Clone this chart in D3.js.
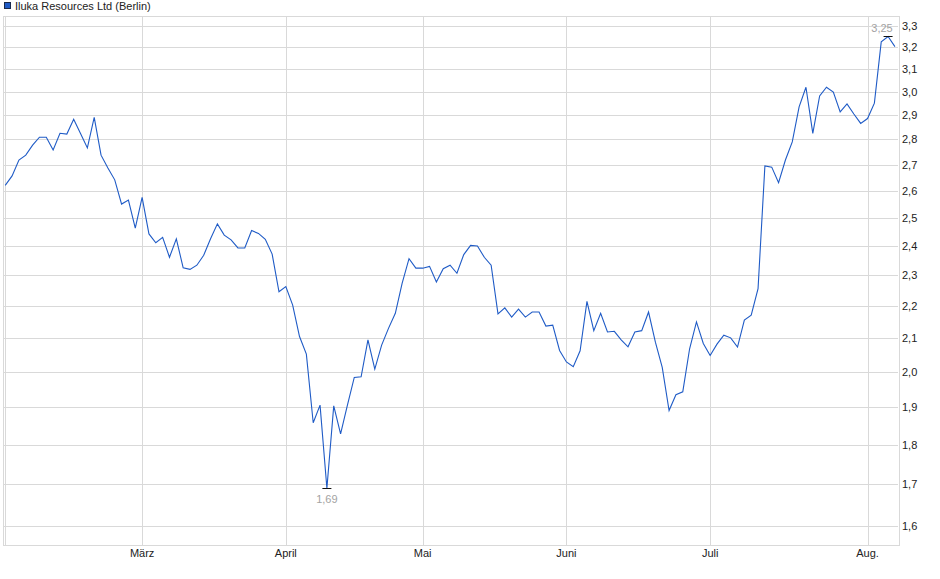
<!DOCTYPE html>
<html>
<head>
<meta charset="utf-8">
<script src="https://cdn.jsdelivr.net/npm/d3@7"></script>
<style>
  body { margin: 0; background: white; }
  text { font-family: "Liberation Sans", Arial, sans-serif; }
</style>
</head>
<body>
<div id="chart-container"></div>
<script>
// data: daily closing prices (trading days, feb 3 .. aug 7)

const title = "Iluka Resources Ltd (Berlin)";

const prices = [
  2.620, 2.656, 2.718, 2.737, 2.777, 2.809, 2.809, 2.758, 2.825, 2.822,
  2.883, 2.824, 2.766, 2.891, 2.737, 2.687, 2.641, 2.550, 2.565, 2.463,
  2.575, 2.442, 2.411, 2.430, 2.361, 2.425, 2.325, 2.320, 2.334, 2.368,
  2.425, 2.478, 2.438, 2.421, 2.393, 2.393, 2.454, 2.444, 2.423, 2.372,
  2.246, 2.263, 2.203, 2.105, 2.052, 1.858, 1.906, 1.690, 1.904, 1.828,
  1.906, 1.984, 1.986, 2.095, 2.008, 2.079, 2.130, 2.177, 2.274, 2.356,
  2.324, 2.324, 2.330, 2.278, 2.322, 2.334, 2.307, 2.370, 2.402, 2.400,
  2.361, 2.334, 2.175, 2.194, 2.165, 2.190, 2.165, 2.181, 2.181, 2.137,
  2.140, 2.063, 2.029, 2.015, 2.062, 2.215, 2.123, 2.177, 2.119, 2.121,
  2.095, 2.074, 2.119, 2.123, 2.181, 2.088, 2.013, 1.891, 1.935, 1.943,
  2.068, 2.150, 2.084, 2.048, 2.082, 2.109, 2.101, 2.073, 2.156, 2.171,
  2.256, 2.695, 2.690, 2.630, 2.718, 2.790, 2.935, 3.020, 2.825, 2.982,
  3.020, 2.999, 2.914, 2.948, 2.905, 2.866, 2.886, 2.951, 3.225, 3.250,
  3.203
];

// first trading day of each month (index into prices)
const monthStarts = [0, 20, 41, 61, 82, 103, 126];
const monthLabels = ["", "März", "April", "Mai", "Juni", "Juli", "Aug."];

const yTicks = [1.6, 1.7, 1.8, 1.9, 2.0, 2.1, 2.2, 2.3, 2.4, 2.5,
                2.6, 2.7, 2.8, 2.9, 3.0, 3.1, 3.2, 3.3];

// svg

width = 940;
height = 579;

const plot = {left: 2.5, right: 898, top: 16, bottom: 545};
const gridColor = "#d9d9d9";
const lineColor = "#1f5bc6";

svg = d3.select("#chart-container")
    .append("svg")
    .attr("width", width)
    .attr("height", height)
    .style("background", "white");

const de = d3.formatLocale({decimal: ",", thousands: ".", grouping: [3], currency: ["", " €"]});
const fmt1 = de.format(".1f");
const fmt2 = de.format(".2f");

// scales

const x = d3.scaleLinear()
    .domain([-0.4, 130.45])
    .range([plot.left, plot.right]);

const y = d3.scaleLog()
    .domain([1.5566, 3.348])
    .range([plot.bottom, plot.top]);

// grid

const grid = svg.append("g").attr("id", "grid")
    .attr("stroke", gridColor)
    .attr("stroke-width", 1)
    .attr("shape-rendering", "crispEdges");

grid.selectAll("line.h")
    .data(yTicks)
    .join("line")
    .attr("class", "h")
    .attr("x1", plot.left)
    .attr("x2", plot.right)
    .attr("y1", d => Math.round(y(d)) + 0.5)
    .attr("y2", d => Math.round(y(d)) + 0.5);

grid.selectAll("line.v")
    .data(monthStarts)
    .join("line")
    .attr("class", "v")
    .attr("x1", d => Math.round(x(d)) + 0.5)
    .attr("x2", d => Math.round(x(d)) + 0.5)
    .attr("y1", plot.top)
    .attr("y2", plot.bottom + 1);

grid.append("rect")
    .attr("x", Math.round(plot.left) + 0.5)
    .attr("y", plot.top + 0.5)
    .attr("width", Math.round(plot.right - plot.left))
    .attr("height", plot.bottom - plot.top)
    .attr("fill", "none");

// axes labels

svg.append("g").attr("id", "y-labels")
    .selectAll("text")
    .data(yTicks)
    .join("text")
    .attr("x", plot.right + 4)
    .attr("y", d => y(d) + 4)
    .attr("font-size", 11)
    .attr("fill", "#222")
    .text(d => fmt1(d));

svg.append("g").attr("id", "x-labels")
    .selectAll("text")
    .data(monthStarts)
    .join("text")
    .attr("x", d => x(d))
    .attr("y", 557)
    .attr("text-anchor", "middle")
    .attr("font-size", 11)
    .attr("fill", "#222")
    .text((d, i) => monthLabels[i]);

// price line

const line = d3.line()
    .x((d, i) => x(i))
    .y(d => y(d));

svg.append("path")
    .datum(prices)
    .attr("d", line)
    .attr("fill", "none")
    .attr("stroke", lineColor)
    .attr("stroke-width", 1.1)
    .attr("stroke-linejoin", "miter");

// min / max markers

const maxIdx = d3.maxIndex(prices);
const minIdx = d3.minIndex(prices);

function marker(idx, above) {
    const cx = x(idx);
    const cy = Math.round(y(prices[idx])) + (above ? -0.5 : 0.5);
    svg.append("line")
        .attr("x1", cx - 4.5).attr("x2", cx + 4.5)
        .attr("y1", cy).attr("y2", cy)
        .attr("stroke", "#111")
        .attr("stroke-width", 1);
    const t = svg.append("text")
        .attr("font-size", 11)
        .attr("fill", "#a3a3a3")
        .text(fmt2(prices[idx]));
    if (above) {
        // keep the label inside the plot on the right side
        t.attr("x", Math.min(cx, plot.right - 16)).attr("y", cy - 5)
            .attr("text-anchor", "middle");
    } else {
        t.attr("x", cx).attr("y", cy + 14)
            .attr("text-anchor", "middle");
    }
}

marker(maxIdx, true);
marker(minIdx, false);

// legend

svg.append("rect")
    .attr("x", 4.5)
    .attr("y", 2.5)
    .attr("width", 6)
    .attr("height", 6)
    .attr("fill", lineColor)
    .attr("stroke", "#1a2a4a")
    .attr("stroke-width", 1);

svg.append("text")
    .attr("x", 15)
    .attr("y", 10)
    .attr("font-size", 11)
    .attr("fill", "#222")
    .text(title);
</script>
</body>
</html>
